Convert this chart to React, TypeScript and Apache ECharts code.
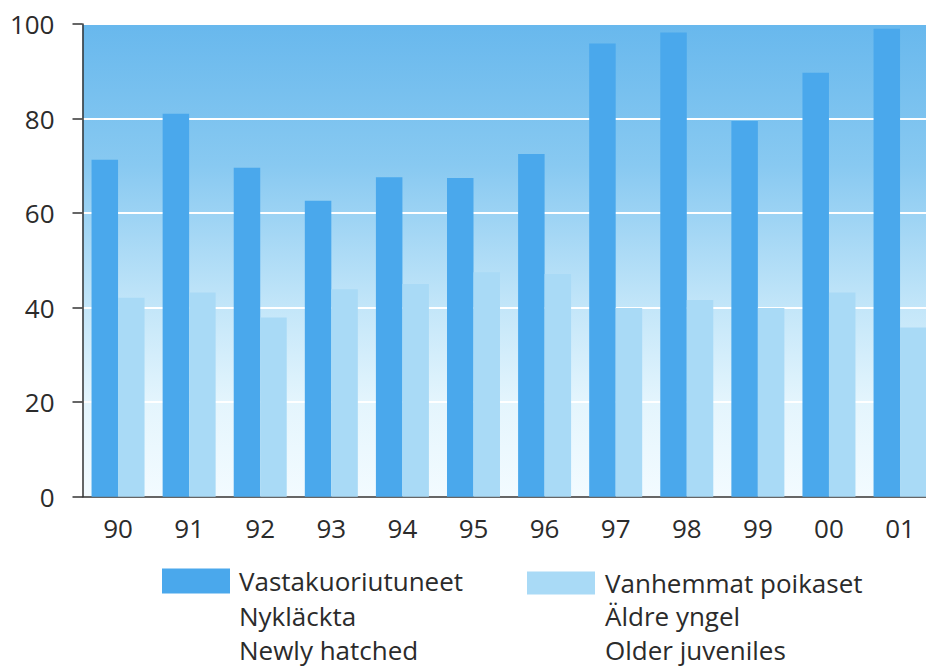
import React, { useEffect, useRef } from "react";
import * as echarts from "echarts";

const categories = ["90", "91", "92", "93", "94", "95", "96", "97", "98", "99", "00", "01"];
const newlyHatched = [71.3, 81, 69.6, 62.6, 67.6, 67.4, 72.5, 95.9, 98.2, 79.5, 89.7, 99];
const olderJuveniles = [42.1, 43.2, 37.9, 43.9, 45, 47.5, 47.1, 39.9, 41.6, 39.9, 43.2, 35.8];
const yTicks = { min: 0, max: 100, interval: 20 };
const legend1 = ["Vastakuoriutuneet", "Nykläckta", "Newly hatched"];
const legend2 = ["Vanhemmat poikaset", "Äldre yngel", "Older juveniles"];

const FONT = "'Open Sans', 'Noto Sans', sans-serif";
const TEXT = "#2b2b2b";

export default function App() {
  const ref = useRef<HTMLDivElement>(null);
  useEffect(() => {
    if (!ref.current) return;
    const chart = echarts.init(ref.current, null, { renderer: "svg" });
    chart.setOption({
      animation: false,
      backgroundColor: "#ffffff",
      grid: {
        left: 82.5,
        right: 0.4,
        top: 24,
        bottom: 171.3,
        show: true,
        borderWidth: 0,
        backgroundColor: {
          type: "linear",
          x: 0,
          y: 0,
          x2: 0,
          y2: 1,
          colorStops: [
            { offset: 0, color: "#68b8ed" },
            { offset: 0.3, color: "#88c9f1" },
            { offset: 0.6, color: "#c3e6f9" },
            { offset: 0.8, color: "#e4f5fd" },
            { offset: 1, color: "#f3fbff" },
          ],
        },
      },
      legend: [
        {
          data: [legend1[0]],
          left: 162,
          top: 568,
          padding: 0,
          icon: "rect",
          itemWidth: 68,
          itemHeight: 25,
          selectedMode: false,
          textStyle: { fontFamily: FONT, fontSize: 26, lineHeight: 26, color: TEXT, padding: [0, 0, 0, 4] },
        },
        {
          data: [legend2[0]],
          left: 527,
          top: 570,
          padding: 0,
          icon: "rect",
          itemWidth: 68,
          itemHeight: 23,
          selectedMode: false,
          textStyle: { fontFamily: FONT, fontSize: 26, lineHeight: 26, color: TEXT, padding: [0, 0, 0, 5] },
        },
      ],
      graphic: [
        ...legend1.slice(1).map((t, i) => ({
          type: "text",
          left: 239,
          top: 603 + i * 34,
          style: { text: t, font: `26px ${FONT}`, lineHeight: 26, fill: TEXT },
        })),
        ...legend2.slice(1).map((t, i) => ({
          type: "text",
          left: 605,
          top: 603 + i * 34,
          style: { text: t, font: `26px ${FONT}`, lineHeight: 26, fill: TEXT },
        })),
      ],
      xAxis: {
        type: "category",
        data: categories,
        axisLine: { lineStyle: { color: "#333", width: 1.5 } },
        axisTick: { alignWithLabel: true, length: 10, lineStyle: { color: "#333", width: 1.5 } },
        axisLabel: { fontFamily: FONT, fontSize: 26, color: TEXT, margin: 18 },
      },
      yAxis: {
        type: "value",
        min: yTicks.min,
        max: yTicks.max,
        interval: yTicks.interval,
        axisLine: { show: true, lineStyle: { color: "#333", width: 1.5 } },
        axisTick: { show: true, length: 10, lineStyle: { color: "#333", width: 1.5 } },
        axisLabel: { fontFamily: FONT, fontSize: 26, color: TEXT, margin: 28 },
        splitLine: { show: true, lineStyle: { color: "#ffffff", width: 2 } },
      },
      series: [
        {
          name: legend1[0],
          type: "bar",
          data: newlyHatched,
          barWidth: 26.5,
          barGap: "0%",
          itemStyle: { color: "#4aa8ec" },
        },
        {
          name: legend2[0],
          type: "bar",
          data: olderJuveniles,
          barWidth: 26.5,
          barGap: "0%",
          itemStyle: { color: "#a9daf6" },
        },
      ],
    });
    return () => chart.dispose();
  }, []);
  return (
    <div style={{ position: "absolute", left: 0, top: 0, width: 926, height: 668, overflow: "hidden" }}>
      <div ref={ref} style={{ width: 936, height: 668 }} />
    </div>
  );
}
